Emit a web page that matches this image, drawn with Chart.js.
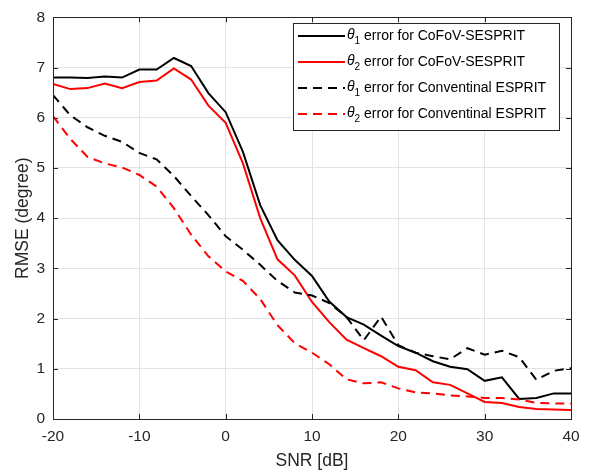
<!DOCTYPE html>
<html>
<head>
<meta charset="utf-8">
<script src="https://cdn.jsdelivr.net/npm/chart.js"></script>
<style>
  html, body { margin: 0; padding: 0; background: #fff; }
  #wrap { width: 597px; height: 474px; }
</style>
</head>
<body>
<div id="wrap"><canvas id="c" width="597" height="474"></canvas></div>
<script>
// SNR grid, -20:2:40 dB
const snr = [-20, -18, -16, -14, -12, -10, -8, -6, -4, -2, 0, 2, 4, 6, 8, 10,
  12, 14, 16, 18, 20, 22, 24, 26, 28, 30, 32, 34, 36, 38, 40];

// RMSE values (degrees)
const theta1Cofov = [6.80, 6.80, 6.79, 6.82, 6.80, 6.96, 6.96, 7.19, 7.03, 6.49, 6.11, 5.32, 4.26, 3.56, 3.17, 2.85,
  2.34, 2.03, 1.88, 1.66, 1.45, 1.32, 1.15, 1.04, 0.99, 0.76, 0.83, 0.40, 0.42, 0.51, 0.51];
const theta2Cofov = [6.67, 6.57, 6.59, 6.68, 6.59, 6.71, 6.74, 6.98, 6.76, 6.24, 5.90, 5.09, 4.00, 3.18, 2.86, 2.33,
  1.93, 1.58, 1.41, 1.25, 1.04, 0.97, 0.73, 0.68, 0.51, 0.34, 0.32, 0.24, 0.20, 0.19, 0.18];
const theta1Esprit = [6.45, 6.05, 5.81, 5.64, 5.52, 5.30, 5.17, 4.84, 4.44, 4.06, 3.64, 3.37, 3.07, 2.75, 2.52, 2.46,
  2.31, 2.03, 1.57, 2.04, 1.47, 1.32, 1.25, 1.19, 1.41, 1.28, 1.36, 1.23, 0.78, 0.96, 1.01];
const theta2Esprit = [6.03, 5.58, 5.22, 5.09, 5.01, 4.86, 4.63, 4.20, 3.67, 3.24, 2.94, 2.75, 2.39, 1.87, 1.51, 1.32,
  1.09, 0.79, 0.71, 0.73, 0.61, 0.53, 0.51, 0.47, 0.45, 0.42, 0.42, 0.39, 0.32, 0.31, 0.31];

const labels = [
  'θ_1 error for CoFoV-SESPRIT',
  'θ_2 error for CoFoV-SESPRIT',
  'θ_1 error for Conventinal ESPRIT',
  'θ_2 error for Conventinal ESPRIT'
];
const xTicks = [-20, -10, 0, 10, 20, 30, 40];
const yTicks = [0, 1, 2, 3, 4, 5, 6, 7, 8];

const AXIS = '#262626';
const FONT = '"Liberation Sans", Arial, Helvetica, sans-serif';

function pts(values) {
  return values.map((v, i) => ({ x: snr[i], y: v }));
}

// MATLAB-like box with inward ticks on all four sides
const boxPlugin = {
  id: 'box',
  afterDatasetsDraw(chart) {
    const { ctx, chartArea: a, scales } = chart;
    const len = 5;
    ctx.save();
    ctx.strokeStyle = AXIS;
    ctx.lineWidth = 1;
    ctx.beginPath();
    xTicks.forEach((t) => {
      const px = Math.round(scales.x.getPixelForValue(t)) + 0.5;
      ctx.moveTo(px, a.bottom); ctx.lineTo(px, a.bottom - len);
      ctx.moveTo(px, a.top); ctx.lineTo(px, a.top + len);
    });
    yTicks.forEach((t) => {
      const py = Math.round(scales.y.getPixelForValue(t)) + 0.5;
      ctx.moveTo(a.left, py); ctx.lineTo(a.left + len, py);
      ctx.moveTo(a.right, py); ctx.lineTo(a.right - len, py);
    });
    ctx.stroke();
    ctx.strokeRect(Math.round(a.left) + 0.5, Math.round(a.top) + 0.5,
      Math.round(a.right - a.left), Math.round(a.bottom - a.top));
    ctx.restore();
  }
};

// Legend in the top-right corner with italic theta and subscript
const legendPlugin = {
  id: 'matlabLegend',
  afterDraw(chart) {
    const { ctx } = chart;
    const x0 = 293, y0 = 23, w = 266, h = 107;
    ctx.save();
    ctx.fillStyle = '#fff';
    ctx.fillRect(x0, y0, w, h);
    ctx.strokeStyle = AXIS;
    ctx.lineWidth = 1;
    ctx.strokeRect(x0 + 0.5, y0 + 0.5, w, h);
    chart.data.datasets.forEach((ds, i) => {
      const y = y0 + 13 + i * 26;
      ctx.beginPath();
      ctx.strokeStyle = ds.borderColor;
      ctx.lineWidth = ds.borderWidth;
      ctx.setLineDash(ds.borderDash || []);
      ctx.moveTo(x0 + 5, y);
      ctx.lineTo(x0 + 52, y);
      ctx.stroke();
      ctx.setLineDash([]);

      const m = ds.label.match(/^(.)_(\d)(.*)$/);
      ctx.fillStyle = '#000';
      ctx.textBaseline = 'middle';
      ctx.textAlign = 'left';
      let tx = x0 + 54;
      ctx.font = 'italic 14px ' + FONT;
      ctx.fillText(m[1], tx, y - 1);
      tx += ctx.measureText(m[1]).width;
      ctx.font = '10px ' + FONT;
      ctx.fillText(m[2], tx, y + 5);
      tx += ctx.measureText(m[2]).width;
      ctx.font = '14px ' + FONT;
      ctx.fillText(m[3], tx, y);
    });
    ctx.restore();
  }
};

const series = [theta1Cofov, theta2Cofov, theta1Esprit, theta2Esprit];
const colors = ['#000000', '#ff0000', '#000000', '#ff0000'];
const dashes = [[], [], [9, 6], [9, 6]];

new Chart(document.getElementById('c'), {
  type: 'line',
  data: {
    datasets: series.map((s, i) => ({
      label: labels[i],
      data: pts(s),
      borderColor: colors[i],
      backgroundColor: colors[i],
      borderWidth: 2,
      borderDash: dashes[i],
      pointRadius: 0,
      tension: 0,
      fill: false,
      order: 4 - i
    }))
  },
  options: {
    responsive: false,
    animation: false,
    layout: { padding: { top: 9, right: 26, left: 0, bottom: 0 } },
    plugins: {
      legend: { display: false },
      tooltip: { enabled: false }
    },
    scales: {
      x: {
        type: 'linear',
        min: -20, max: 40,
        afterBuildTicks: (s) => { s.ticks = xTicks.map((v) => ({ value: v })); },
        afterFit: (s) => { s.height = 55; },
        grid: { color: '#e3e3e3', drawTicks: false },
        border: { display: false },
        ticks: { color: AXIS, font: { family: FONT, size: 15.5 }, padding: 8, maxRotation: 0 },
        title: { display: true, text: 'SNR [dB]', color: AXIS, font: { family: FONT, size: 17.5 }, padding: { top: 0, bottom: 2.5 } }
      },
      y: {
        type: 'linear',
        min: 0, max: 8,
        afterBuildTicks: (s) => { s.ticks = yTicks.map((v) => ({ value: v })); },
        afterFit: (s) => { s.width = 53; },
        grid: { color: '#e3e3e3', drawTicks: false },
        border: { display: false },
        ticks: { color: AXIS, font: { family: FONT, size: 15.5 }, padding: 8 },
        title: { display: true, text: 'RMSE (degree)', color: AXIS, font: { family: FONT, size: 17.5 }, padding: { top: 12.5, bottom: 0 } }
      }
    }
  },
  plugins: [boxPlugin, legendPlugin]
});
</script>
</body>
</html>
